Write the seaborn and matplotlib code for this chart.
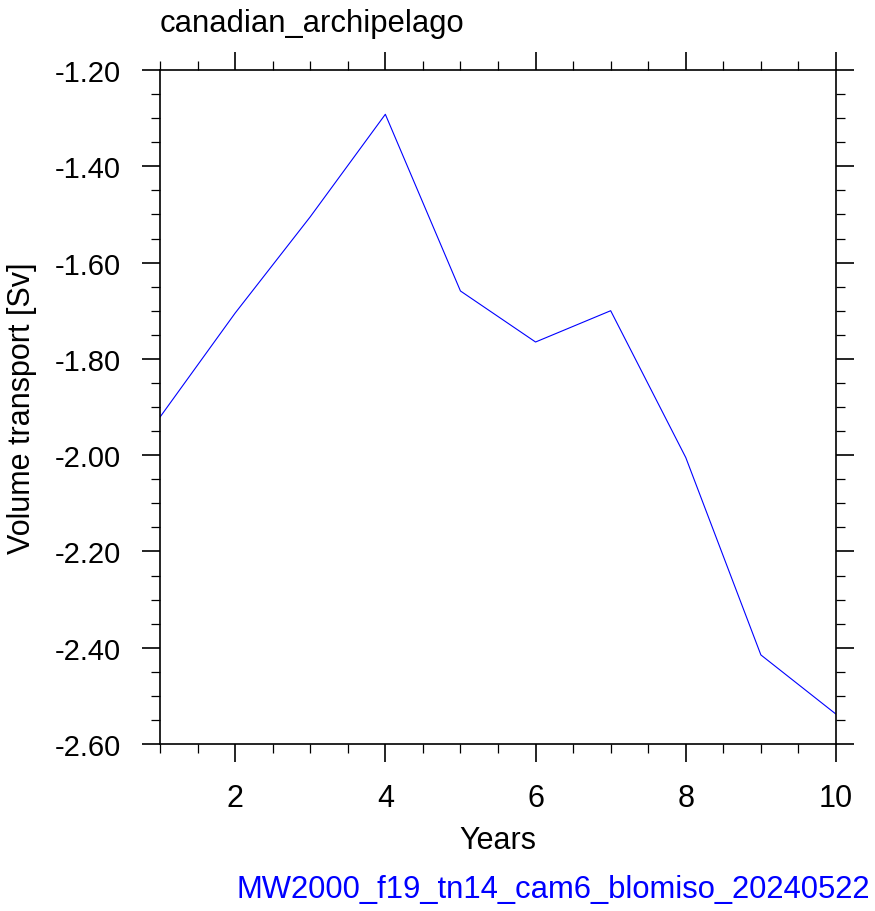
import numpy as np
import pandas as pd
import seaborn as sns
import matplotlib.pyplot as plt
from matplotlib.ticker import MultipleLocator, FormatStrFormatter

# Valores
anos = [1, 2, 3, 4, 5, 6, 7, 8, 9, 10]
transporte = [-1.921, -1.705, -1.505, -1.292, -1.659, -1.765, -1.700, -2.005, -2.415, -2.538]

titulo = 'canadian_archipelago'
rotulo_x = 'Years'
rotulo_y = 'Volume transport [Sv]'
caso = 'MW2000_f19_tn14_cam6_blomiso_20240522'

dados = pd.DataFrame({'ano': anos, 'transporte': transporte})

sns.set_style('ticks')
plt.rcParams['font.family'] = ['Liberation Sans', 'DejaVu Sans']
plt.rcParams['axes.unicode_minus'] = False
plt.rcParams['text.color'] = 'black'
plt.rcParams['axes.labelcolor'] = 'black'
plt.rcParams['xtick.color'] = 'black'
plt.rcParams['ytick.color'] = 'black'

fig = plt.figure(figsize=(8.75, 9.12), dpi=100)
ax = fig.add_axes([160 / 875, 167 / 912, 676 / 875, 674 / 912])

sns.lineplot(data=dados, x='ano', y='transporte', color='blue', linewidth=0.8, ax=ax)

ax.set_xlim(1, 10)
ax.set_ylim(-2.6, -1.2)
ax.xaxis.set_major_locator(MultipleLocator(2))
ax.xaxis.set_minor_locator(MultipleLocator(0.5))
ax.yaxis.set_major_locator(MultipleLocator(0.2))
ax.yaxis.set_minor_locator(MultipleLocator(0.05))
ax.yaxis.set_major_formatter(FormatStrFormatter('%.2f'))

for lado in ['top', 'right', 'bottom', 'left']:
    ax.spines[lado].set_visible(True)
    ax.spines[lado].set_linewidth(1.2)
    ax.spines[lado].set_color('black')

ax.tick_params(which='both', direction='out', top=True, right=True, colors='black')
ax.tick_params(which='major', length=13, width=1.2, pad=15)
ax.tick_params(which='minor', length=6.5, width=0.9)
ax.tick_params(axis='x', labelsize=22)
ax.tick_params(axis='y', labelsize=21)

ax.set_xlabel(rotulo_x, fontsize=22, labelpad=9, color='black')
ax.set_ylabel(rotulo_y, fontsize=22, labelpad=13, color='black')

fig.text(160 / 875, (912 - 31.7) / 912, titulo, fontsize=22.3, color='black', ha='left', va='baseline')
fig.text(870 / 875, (912 - 898) / 912, caso, fontsize=22.3, color='blue', ha='right', va='baseline')

fig.savefig('out.png', dpi=100)
